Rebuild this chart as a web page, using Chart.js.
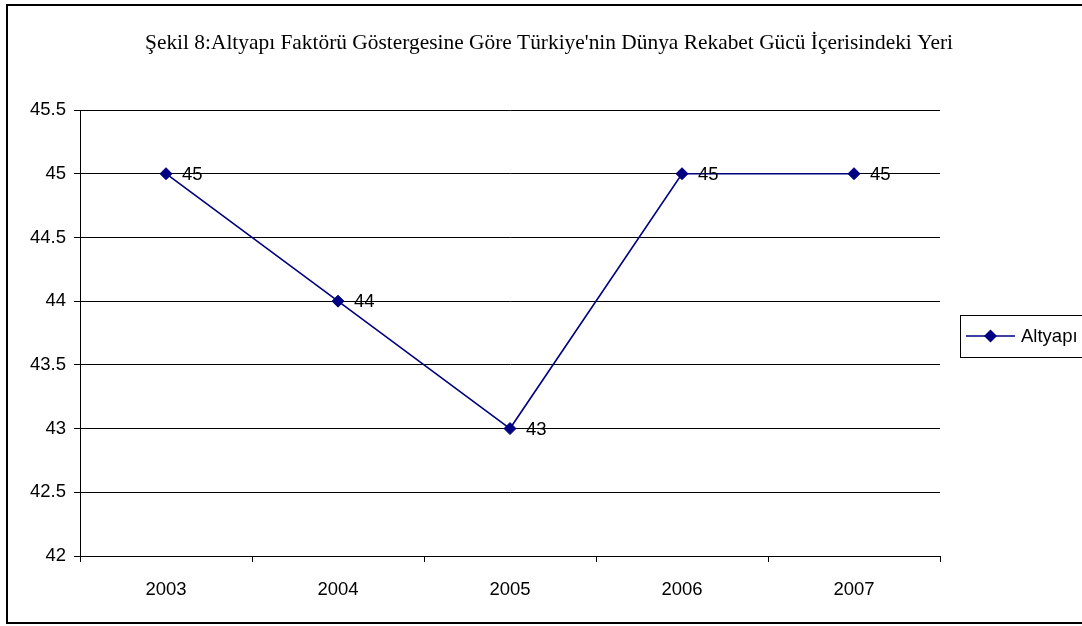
<!DOCTYPE html>
<html>
<head>
<meta charset="utf-8">
<title>Altyapı</title>
<script src="https://cdn.jsdelivr.net/npm/chart.js@4.4.1/dist/chart.umd.min.js"></script>
<style>
  html, body { margin: 0; padding: 0; background: #fff; }
  canvas { display: block; }
</style>
</head>
<body>
<canvas id="chart" width="1082" height="626"></canvas>
<script>
const years = ["2003", "2004", "2005", "2006", "2007"];
const altyapi = [45, 44, 43, 45, 45];
const yTicks = [42, 42.5, 43, 43.5, 44, 44.5, 45, 45.5];

const chartTitle = "Şekil 8:Altyapı Faktörü Göstergesine Göre Türkiye'nin Dünya Rekabet Gücü İçerisindeki Yeri";
const seriesName = "Altyapı";

const NAVY = "#000080";
const FONT = "'Liberation Sans', Arial, sans-serif";
const FSIZE = 18.5;

/* frame, title, value labels and legend */
const decorations = {
    id: "decorations",
    afterDraw(chart) {
        const ctx = chart.ctx;
        ctx.save();

        // outer frame
        ctx.strokeStyle = "#000";
        ctx.lineWidth = 2;
        ctx.strokeRect(7, 5, 1090, 618);

        // title
        ctx.fillStyle = "#000";
        ctx.font = "21.4px 'Liberation Serif', 'Times New Roman', serif";
        ctx.textAlign = "center";
        ctx.textBaseline = "middle";
        ctx.fillText(chartTitle, 549, 43);

        // value labels next to each point
        ctx.font = FSIZE + "px " + FONT;
        ctx.textAlign = "left";
        const meta = chart.getDatasetMeta(0);
        meta.data.forEach((pt, i) => {
            ctx.fillText(String(altyapi[i]), pt.x + 16, pt.y + 1);
        });

        // legend box
        ctx.lineWidth = 1;
        ctx.strokeStyle = "#000";
        ctx.strokeRect(960.5, 315.5, 140, 42);
        ctx.strokeStyle = NAVY;
        ctx.lineWidth = 1.5;
        ctx.beginPath();
        ctx.moveTo(966, 336);
        ctx.lineTo(1015, 336);
        ctx.stroke();
        ctx.fillStyle = NAVY;
        ctx.beginPath();
        ctx.moveTo(990.5, 329.5);
        ctx.lineTo(997, 336);
        ctx.lineTo(990.5, 342.5);
        ctx.lineTo(984, 336);
        ctx.closePath();
        ctx.fill();
        ctx.fillStyle = "#000";
        ctx.font = FSIZE + "px " + FONT;
        ctx.textBaseline = "middle";
        ctx.fillText(seriesName, 1021, 337);

        ctx.restore();
    }
};

new Chart(
    document.getElementById("chart"),
    {
        type: "line",

        data: {
            labels: years,

            datasets: [{
                label: seriesName,
                data: altyapi,
                borderColor: NAVY,
                backgroundColor: NAVY,
                borderWidth: 1.6,
                pointStyle: "rectRot",
                pointRadius: 6,
                pointBorderWidth: 1,
                pointBorderColor: NAVY,
                pointBackgroundColor: NAVY,
                tension: 0
            }]
        },

        options: {
            responsive: false,
            animation: false,
            layout: {
                padding: { left: 0, top: 110, right: 142, bottom: 0 }
            },
            plugins: {
                legend: { display: false },
                title: { display: false },
                tooltip: { enabled: false }
            },
            scales: {
                x: {
                    offset: true,
                    afterFit(scale) { scale.height = 70; },
                    border: { color: "#000", width: 1 },
                    grid: {
                        offset: true,
                        drawOnChartArea: false,
                        drawTicks: true,
                        tickLength: 6,
                        color: "#000"
                    },
                    ticks: {
                        color: "#000",
                        padding: 17,
                        font: { family: FONT, size: FSIZE }
                    }
                },
                y: {
                    min: 42,
                    max: 45.5,
                    afterFit(scale) { scale.width = 80; },
                    afterBuildTicks(scale) {
                        scale.ticks = yTicks.map(v => ({ value: v }));
                    },
                    border: { color: "#000", width: 1 },
                    grid: {
                        color: "#000",
                        lineWidth: 1,
                        tickLength: 6
                    },
                    ticks: {
                        color: "#000",
                        padding: 8,
                        font: { family: FONT, size: FSIZE },
                        callback: v => String(v)
                    }
                }
            }
        },

        plugins: [decorations]
    }
);
</script>
</body>
</html>
